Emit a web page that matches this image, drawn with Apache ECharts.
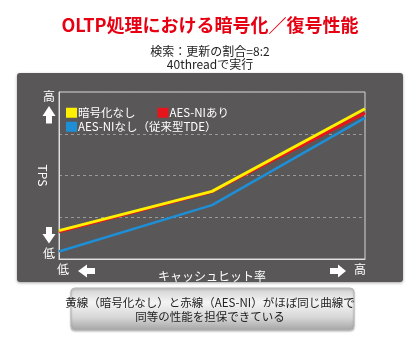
<!DOCTYPE html>
<html><head><meta charset="utf-8">
<script src="https://cdn.jsdelivr.net/npm/echarts@6/dist/echarts.min.js"></script>
<style>html,body{margin:0;padding:0;background:#fff}#c{width:420px;height:350px}</style>
</head><body><div id="c"></div>
<script>
const title = 'OLTP処理における暗号化／復号性能';
const subtitle = '検索：更新の割合=8:2\n40threadで実行';
const note = '黄線（暗号化なし）と赤線（AES-NI）がほぼ同じ曲線で\n同等の性能を担保できている';
const categories = ['low', 'mid', 'high'];
const seriesNames = ['暗号化なし', 'AES-NIあり', 'AES-NIなし（従来型TDE）'];
const noEnc = [0.68, 1.62, 3.60];
const aesNi = [0.65, 1.61, 3.50];
const tde = [0.18, 1.29, 3.38];
const yAxisName = 'TPS';
const xAxisName = 'キャッシュヒット率';
const yEndLabels = ['低', '高'];
const xEndLabels = ['低', '高'];

const FONT = '"Noto Sans CJK JP", "Noto Sans", sans-serif';
const chart = echarts.init(document.getElementById('c'), null, {renderer: 'canvas'});
const W = '#ffffff';
const legendBase = {
  itemWidth: 11, itemHeight: 10, itemGap: 22, icon: 'rect',
  textStyle: {color: W, fontSize: 11.5, fontFamily: FONT, padding: [0, 0, 0, -4]}
};
chart.setOption({
  backgroundColor: '#ffffff',
  animation: false,
  textStyle: {fontFamily: FONT},
  title: [
    {text: title, left: 'center', top: 11, textStyle: {color: '#e60012', fontSize: 18, fontWeight: 'bold', fontFamily: FONT}},
    {text: subtitle, left: 'center', top: 40, textStyle: {color: '#222', fontSize: 12, fontWeight: 'normal', lineHeight: 13, fontFamily: FONT}}
  ],
  grid: {left: 59, right: 55, top: 92, bottom: 91, show: true, borderColor: '#d8d8d8', borderWidth: 1, backgroundColor: 'transparent'},
  legend: [
    Object.assign({left: 61, top: 102, data: [seriesNames[0], seriesNames[1]]}, legendBase),
    Object.assign({left: 61, top: 116, data: [seriesNames[2]]}, legendBase)
  ],
  xAxis: {
    type: 'category', data: categories, boundaryGap: false,
    axisLine: {show: true, lineStyle: {color: '#e0e0e0', width: 1}},
    axisTick: {show: false}, axisLabel: {show: false}, splitLine: {show: false},
    name: xAxisName, nameLocation: 'middle', nameGap: 11,
    nameTextStyle: {color: W, fontSize: 12, fontFamily: FONT}
  },
  yAxis: {
    type: 'value', min: 0, max: 4, interval: 1,
    axisLine: {show: true, lineStyle: {color: '#e0e0e0', width: 1}},
    axisTick: {show: false}, axisLabel: {show: false},
    splitLine: {show: true, lineStyle: {color: '#9a9a9a', type: [3, 3], width: 1}},
    name: yAxisName, nameLocation: 'middle', nameGap: 10, nameRotate: -90,
    nameTextStyle: {color: W, fontSize: 12, fontFamily: FONT}
  },
  series: [
    {name: seriesNames[2], type: 'line', data: tde, symbol: 'none', z: 3,
     itemStyle: {color: '#1e8fd6'}, lineStyle: {color: '#1e8fd6', width: 2.5}},
    {name: seriesNames[1], type: 'line', data: aesNi, symbol: 'none', z: 4,
     itemStyle: {color: '#e8141c'}, lineStyle: {color: '#e8141c', width: 3}},
    {name: seriesNames[0], type: 'line', data: noEnc, symbol: 'none', z: 5,
     itemStyle: {color: '#fff000'}, lineStyle: {color: '#fff000', width: 3}}
  ],
  graphic: [
    {type: 'rect', z: -10, shape: {x: 17, y: 73, width: 386, height: 209, r: 3},
     style: {fill: '#595757', shadowBlur: 3, shadowColor: 'rgba(0,0,0,0.35)', shadowOffsetY: 1}},
    {type: 'text', z: 10, left: 43, top: 90, style: {text: yEndLabels[1], fill: W, font: '12px ' + FONT}},
    {type: 'polygon', z: 10, shape: {points: [[49, 106], [55.5, 116], [52, 116], [52, 123.5], [46, 123.5], [46, 116], [42.5, 116]]}, style: {fill: W}},
    {type: 'polygon', z: 10, shape: {points: [[46, 227], [52, 227], [52, 234], [55.5, 234], [49, 243.5], [42.5, 234], [46, 234]]}, style: {fill: W}},
    {type: 'text', z: 10, left: 43, top: 247, style: {text: yEndLabels[0], fill: W, font: '12px ' + FONT}},
    {type: 'text', z: 10, left: 57, top: 263, style: {text: xEndLabels[0], fill: W, font: '12px ' + FONT}},
    {type: 'polygon', z: 10, shape: {points: [[78, 271], [87, 264.5], [87, 268], [95, 268], [95, 274], [87, 274], [87, 277.5]]}, style: {fill: W}},
    {type: 'polygon', z: 10, shape: {points: [[330, 268], [338, 268], [338, 264.5], [346, 271], [338, 277.5], [338, 274], [330, 274]]}, style: {fill: W}},
    {type: 'text', z: 10, left: 354, top: 263, style: {text: xEndLabels[1], fill: W, font: '12px ' + FONT}},
    {type: 'rect', z: 10, shape: {x: 71, y: 288, width: 283, height: 42, r: 4},
     style: {stroke: '#b8b8b8', lineWidth: 1,
       fill: new echarts.graphic.LinearGradient(0, 0, 0, 1, [
         {offset: 0, color: '#d0d0d0'}, {offset: 0.35, color: '#f4f4f4'}, {offset: 0.7, color: '#d6d6d6'}, {offset: 1, color: '#a4a4a4'}]),
       shadowBlur: 2, shadowColor: 'rgba(0,0,0,0.25)', shadowOffsetY: 1}},
    {type: 'text', z: 11, left: 'center', top: 296, style: {text: note, fill: '#222', font: '11.5px ' + FONT, textAlign: 'center', lineHeight: 14}}
  ]
});
</script></body></html>
